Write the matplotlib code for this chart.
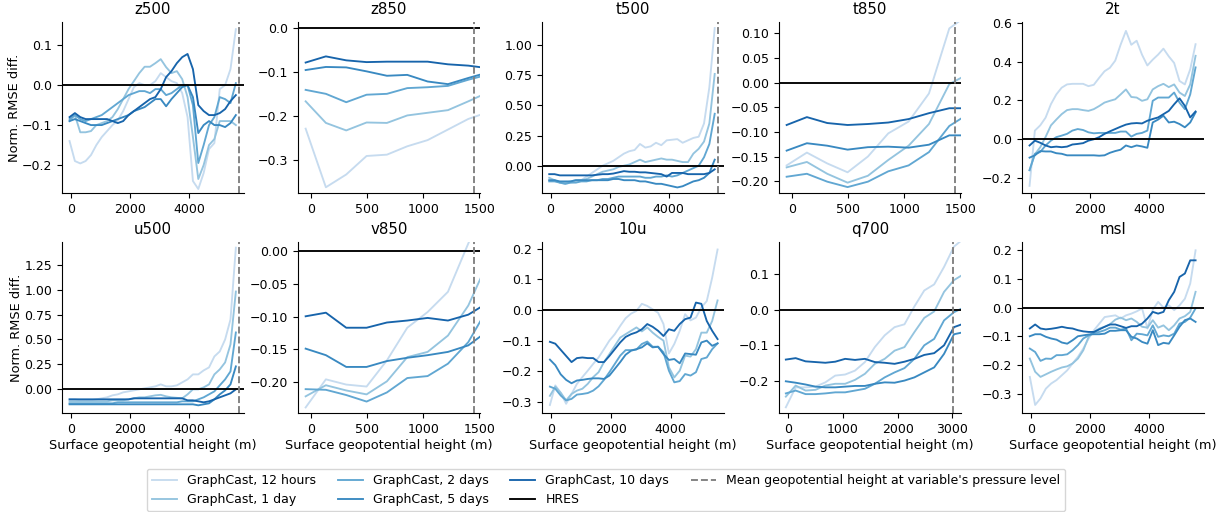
import numpy as np
import matplotlib
matplotlib.use("Agg")
import matplotlib.pyplot as plt
from matplotlib.lines import Line2D

# ---------------- data ----------------
X_HI = [-45, 135, 316, 497, 678, 859, 1040, 1221, 1402, 1583, 1764, 1945, 2126, 2307, 2488, 2669,
        2850, 3031, 3212, 3393, 3574, 3755, 3936, 4117, 4298, 4479, 4660, 4841, 5022, 5203, 5384, 5565]
X_LO = [-45, 135, 316, 497, 678, 859, 1040, 1221, 1402, 1583]
X_Q = [-45, 135, 316, 497, 678, 859, 1040, 1221, 1402, 1583, 1764, 1945, 2126, 2307, 2488, 2669,
       2850, 3031, 3212]

series_names = ["GraphCast, 12 hours", "GraphCast, 1 day", "GraphCast, 2 days",
                "GraphCast, 5 days", "GraphCast, 10 days"]

z500_12h = [-0.14, -0.19, -0.196, -0.19, -0.175, -0.15, -0.13, -0.115, -0.10, -0.088, -0.065, -0.035, -0.005, 0.005, 0.0, 0.0,
            0.01, 0.03, 0.02, 0.01, 0.005, -0.02, -0.08, -0.24, -0.26, -0.22, -0.16, -0.145, -0.01, 0.0, 0.04, 0.14]
z500_1d = [-0.09, -0.075, -0.118, -0.118, -0.115, -0.1, -0.095, -0.09, -0.08, -0.06, -0.035, -0.01, 0.01, 0.03, 0.046, 0.046,
           0.055, 0.065, 0.045, 0.03, 0.035, 0.015, -0.03, -0.13, -0.235, -0.2, -0.15, -0.135, -0.09, -0.09, -0.09, -0.1]
z500_2d = [-0.085, -0.075, -0.085, -0.09, -0.085, -0.08, -0.075, -0.065, -0.055, -0.045, -0.035, -0.025, -0.02, -0.015, -0.015, -0.02,
           -0.01, -0.01, -0.025, -0.02, -0.01, 0.0, 0.0, -0.05, -0.195, -0.15, -0.1, -0.08, -0.03, -0.035, -0.045, 0.005]
z500_5d = [-0.09, -0.085, -0.09, -0.095, -0.1, -0.1, -0.1, -0.095, -0.09, -0.085, -0.08, -0.075, -0.065, -0.06, -0.055, -0.045,
           -0.035, -0.035, -0.053, -0.035, -0.02, -0.005, 0.0, -0.03, -0.12, -0.1, -0.09, -0.1, -0.1, -0.105, -0.095, -0.075]
z500_10d = [-0.08, -0.07, -0.08, -0.085, -0.085, -0.085, -0.085, -0.085, -0.09, -0.095, -0.09, -0.075, -0.065, -0.055, -0.045, -0.035,
            -0.03, -0.01, 0.02, 0.035, 0.055, 0.07, 0.078, 0.04, -0.05, -0.065, -0.075, -0.075, -0.07, -0.06, -0.04, -0.025]

z850_12h = [-0.228, -0.361, -0.332, -0.29, -0.287, -0.268, -0.254, -0.23, -0.206, -0.19]
z850_1d = [-0.166, -0.215, -0.232, -0.214, -0.215, -0.198, -0.192, -0.186, -0.166, -0.145]
z850_2d = [-0.14, -0.149, -0.168, -0.151, -0.149, -0.136, -0.134, -0.131, -0.117, -0.105]
z850_5d = [-0.095, -0.088, -0.089, -0.098, -0.108, -0.106, -0.121, -0.127, -0.113, -0.10]
z850_10d = [-0.078, -0.064, -0.073, -0.077, -0.076, -0.076, -0.076, -0.082, -0.085, -0.091]

t500_12h = [-0.12, -0.12, -0.14, -0.15, -0.14, -0.13, -0.12, -0.09, -0.06, -0.03, 0.0, 0.02, 0.04, 0.07, 0.1, 0.12,
            0.13, 0.18, 0.15, 0.16, 0.19, 0.17, 0.21, 0.215, 0.22, 0.19, 0.21, 0.23, 0.24, 0.35, 0.65, 1.14]
t500_1d = [-0.1, -0.12, -0.14, -0.14, -0.13, -0.12, -0.12, -0.11, -0.09, -0.07, -0.05, -0.04, -0.03, -0.01, 0.0, 0.01,
           0.03, 0.05, 0.03, 0.04, 0.05, 0.06, 0.05, 0.05, 0.04, 0.03, 0.03, 0.1, 0.14, 0.2, 0.35, 0.76]
t500_2d = [-0.13, -0.13, -0.14, -0.15, -0.14, -0.14, -0.13, -0.13, -0.12, -0.12, -0.11, -0.11, -0.1, -0.09, -0.09, -0.09,
           -0.09, -0.09, -0.1, -0.1, -0.09, -0.09, -0.08, -0.09, -0.08, -0.06, -0.04, -0.02, 0.0, 0.07, 0.18, 0.43]
t500_5d = [-0.12, -0.12, -0.13, -0.13, -0.13, -0.12, -0.12, -0.12, -0.12, -0.12, -0.12, -0.12, -0.11, -0.11, -0.12, -0.12,
           -0.12, -0.13, -0.13, -0.14, -0.15, -0.15, -0.16, -0.17, -0.18, -0.17, -0.15, -0.13, -0.12, -0.1, -0.06, 0.05]
t500_10d = [-0.07, -0.07, -0.08, -0.08, -0.08, -0.08, -0.08, -0.08, -0.08, -0.075, -0.07, -0.07, -0.065, -0.055, -0.045, -0.05,
            -0.05, -0.055, -0.055, -0.06, -0.065, -0.07, -0.09, -0.06, -0.06, -0.06, -0.07, -0.07, -0.07, -0.07, -0.06, -0.03]

t850_12h = [-0.168, -0.142, -0.164, -0.182, -0.15, -0.103, -0.079, -0.022, 0.11, 0.14]
t850_1d = [-0.172, -0.161, -0.185, -0.203, -0.189, -0.157, -0.128, -0.084, -0.003, 0.019]
t850_2d = [-0.191, -0.185, -0.201, -0.212, -0.201, -0.180, -0.168, -0.141, -0.088, -0.062]
t850_5d = [-0.138, -0.123, -0.128, -0.136, -0.131, -0.130, -0.132, -0.126, -0.107, -0.107]
t850_10d = [-0.086, -0.070, -0.082, -0.086, -0.084, -0.081, -0.074, -0.062, -0.052, -0.052]

t2m_12h = [-0.243, 0.043, 0.07, 0.11, 0.18, 0.23, 0.265, 0.282, 0.285, 0.285, 0.285, 0.273, 0.28, 0.316, 0.35, 0.368,
           0.405, 0.487, 0.559, 0.487, 0.508, 0.436, 0.38, 0.41, 0.436, 0.467, 0.427, 0.393, 0.3, 0.282, 0.36, 0.49]
t2m_1d = [-0.162, -0.08, -0.043, 0.01, 0.07, 0.1, 0.128, 0.149, 0.154, 0.154, 0.149, 0.145, 0.154, 0.17, 0.188, 0.197,
          0.205, 0.23, 0.256, 0.217, 0.214, 0.197, 0.205, 0.256, 0.273, 0.285, 0.268, 0.282, 0.24, 0.222, 0.282, 0.43]
t2m_2d = [-0.162, -0.077, -0.068, -0.034, -0.009, 0.009, 0.017, 0.026, 0.043, 0.051, 0.046, 0.034, 0.029, 0.031, 0.031, 0.031,
          0.031, 0.038, 0.038, 0.012, 0.026, 0.031, 0.043, 0.197, 0.214, 0.214, 0.214, 0.24, 0.188, 0.154, 0.23, 0.37]
t2m_5d = [-0.097, -0.085, -0.063, -0.065, -0.065, -0.074, -0.077, -0.085, -0.085, -0.085, -0.085, -0.085, -0.085, -0.087, -0.085, -0.072,
          -0.063, -0.056, -0.034, -0.043, -0.034, -0.039, -0.046, 0.085, 0.1, 0.12, 0.085, 0.089, 0.077, 0.06, 0.085, 0.137]
t2m_10d = [-0.034, -0.009, -0.02, -0.034, -0.043, -0.04, -0.043, -0.04, -0.029, -0.026, -0.022, -0.009, -0.002, 0.009, 0.026, 0.039,
           0.051, 0.063, 0.074, 0.08, 0.082, 0.08, 0.094, 0.103, 0.111, 0.128, 0.145, 0.179, 0.21, 0.171, 0.111, 0.142]

u500_12h = [-0.1, -0.1, -0.11, -0.11, -0.11, -0.1, -0.09, -0.08, -0.06, -0.05, -0.03, -0.02, -0.01, 0.0, 0.01, 0.02,
            0.03, 0.05, 0.03, 0.03, 0.04, 0.07, 0.1, 0.15, 0.15, 0.19, 0.22, 0.33, 0.38, 0.5, 0.7, 1.42]
u500_1d = [-0.12, -0.12, -0.12, -0.12, -0.12, -0.12, -0.12, -0.12, -0.11, -0.11, -0.11, -0.1, -0.09, -0.08, -0.08, -0.07,
           -0.06, -0.055, -0.07, -0.08, -0.085, -0.09, -0.05, 0.0, 0.0, 0.02, 0.05, 0.15, 0.2, 0.27, 0.45, 0.98]
u500_2d = [-0.14, -0.14, -0.14, -0.14, -0.14, -0.14, -0.14, -0.14, -0.14, -0.13, -0.13, -0.13, -0.13, -0.13, -0.13, -0.13,
           -0.13, -0.13, -0.13, -0.13, -0.13, -0.12, -0.12, -0.12, -0.1, -0.08, -0.05, -0.02, 0.04, 0.1, 0.18, 0.57]
u500_5d = [-0.15, -0.15, -0.15, -0.15, -0.15, -0.15, -0.15, -0.15, -0.15, -0.15, -0.15, -0.15, -0.15, -0.15, -0.15, -0.15,
           -0.15, -0.15, -0.15, -0.15, -0.15, -0.15, -0.15, -0.15, -0.16, -0.15, -0.14, -0.1, -0.05, -0.01, 0.05, 0.23]
u500_10d = [-0.1, -0.1, -0.1, -0.1, -0.1, -0.1, -0.1, -0.1, -0.1, -0.1, -0.1, -0.1, -0.09, -0.09, -0.09, -0.09,
            -0.09, -0.09, -0.09, -0.09, -0.09, -0.09, -0.11, -0.11, -0.12, -0.13, -0.12, -0.1, -0.08, -0.06, -0.04, 0.0]

v850_12h = [-0.239, -0.196, -0.204, -0.207, -0.167, -0.117, -0.093, -0.062, 0.012, 0.08]
v850_1d = [-0.222, -0.205, -0.213, -0.219, -0.199, -0.162, -0.154, -0.129, -0.083, -0.014]
v850_2d = [-0.211, -0.212, -0.22, -0.23, -0.216, -0.194, -0.191, -0.172, -0.139, -0.085]
v850_5d = [-0.149, -0.159, -0.177, -0.177, -0.168, -0.163, -0.159, -0.154, -0.144, -0.121]
v850_10d = [-0.0995, -0.094, -0.117, -0.117, -0.109, -0.106, -0.102, -0.106, -0.097, -0.078]

u10_12h = [-0.31, -0.246, -0.27, -0.306, -0.274, -0.241, -0.219, -0.198, -0.176, -0.155, -0.128, -0.1, -0.079, -0.052, -0.027, -0.012,
           -0.003, 0.02, 0.013, 0.002, -0.009, -0.046, -0.142, -0.111, -0.068, -0.014, -0.034, -0.025, 0.008, 0.029, 0.105, 0.197]
u10_1d = [-0.28, -0.25, -0.27, -0.295, -0.274, -0.263, -0.257, -0.241, -0.219, -0.203, -0.17, -0.144, -0.117, -0.09, -0.079, -0.068,
          -0.057, -0.07, -0.057, -0.074, -0.088, -0.1, -0.187, -0.22, -0.198, -0.149, -0.152, -0.128, -0.074, -0.074, -0.036, 0.031]
u10_2d = [-0.25, -0.257, -0.279, -0.295, -0.29, -0.276, -0.274, -0.271, -0.263, -0.249, -0.228, -0.203, -0.176, -0.149, -0.131, -0.131,
          -0.129, -0.111, -0.103, -0.12, -0.12, -0.138, -0.198, -0.236, -0.232, -0.209, -0.214, -0.203, -0.16, -0.155, -0.128, -0.109]
u10_5d = [-0.162, -0.18, -0.21, -0.228, -0.239, -0.23, -0.228, -0.225, -0.223, -0.223, -0.225, -0.214, -0.192, -0.17, -0.146, -0.133,
          -0.128, -0.122, -0.109, -0.122, -0.12, -0.144, -0.163, -0.16, -0.174, -0.142, -0.144, -0.146, -0.106, -0.1, -0.117, -0.109]
u10_10d = [-0.104, -0.11, -0.13, -0.15, -0.17, -0.157, -0.155, -0.157, -0.157, -0.17, -0.17, -0.15, -0.128, -0.106, -0.088, -0.079,
           -0.073, -0.063, -0.046, -0.055, -0.068, -0.085, -0.063, -0.068, -0.046, -0.03, -0.025, 0.024, 0.02, -0.036, -0.068, -0.095]

q700_12h = [-0.274, -0.218, -0.218, -0.216, -0.204, -0.185, -0.182, -0.171, -0.147, -0.105, -0.072, -0.049, -0.041, 0.009, 0.054, 0.071,
            0.12, 0.177, 0.2]
q700_1d = [-0.244, -0.213, -0.227, -0.225, -0.213, -0.208, -0.208, -0.197, -0.18, -0.152, -0.138, -0.115, -0.105, -0.063, -0.023, -0.005,
           0.05, 0.083, 0.1]
q700_2d = [-0.235, -0.227, -0.237, -0.237, -0.235, -0.232, -0.232, -0.227, -0.222, -0.208, -0.19, -0.176, -0.164, -0.138, -0.1, -0.082,
           -0.03, -0.007, 0.006]
q700_5d = [-0.201, -0.205, -0.21, -0.216, -0.218, -0.218, -0.216, -0.214, -0.214, -0.208, -0.204, -0.205, -0.199, -0.19, -0.176, -0.162,
           -0.124, -0.069, -0.063]
q700_10d = [-0.14, -0.136, -0.145, -0.147, -0.149, -0.146, -0.138, -0.141, -0.138, -0.147, -0.149, -0.152, -0.146, -0.138, -0.127, -0.122,
            -0.1, -0.049, -0.039]

msl_12h = [-0.242, -0.34, -0.317, -0.283, -0.265, -0.253, -0.236, -0.219, -0.195, -0.172, -0.143, -0.108, -0.079, -0.056, -0.033, -0.03,
           -0.027, -0.038, -0.027, -0.021, -0.013, -0.003, -0.073, -0.007, 0.02, 0.0, 0.008, -0.009, 0.008, 0.031, 0.084, 0.2]
msl_1d = [-0.178, -0.224, -0.242, -0.233, -0.224, -0.216, -0.209, -0.205, -0.195, -0.178, -0.149, -0.102, -0.085, -0.073, -0.067, -0.058,
          -0.042, -0.035, -0.044, -0.038, -0.05, -0.067, -0.07, -0.044, -0.07, -0.062, -0.079, -0.062, -0.038, -0.03, -0.015, 0.055]
msl_2d = [-0.143, -0.155, -0.186, -0.178, -0.179, -0.166, -0.166, -0.163, -0.149, -0.131, -0.108, -0.097, -0.088, -0.085, -0.079, -0.07,
          -0.07, -0.077, -0.073, -0.114, -0.091, -0.093, -0.097, -0.062, -0.102, -0.097, -0.1, -0.091, -0.056, -0.05, -0.035, -0.003]
msl_5d = [-0.1, -0.093, -0.093, -0.102, -0.108, -0.112, -0.122, -0.126, -0.114, -0.1, -0.097, -0.094, -0.093, -0.093, -0.091, -0.081,
          -0.081, -0.079, -0.079, -0.102, -0.108, -0.12, -0.126, -0.079, -0.131, -0.123, -0.126, -0.097, -0.067, -0.044, -0.038, -0.05]
msl_10d = [-0.073, -0.059, -0.073, -0.076, -0.074, -0.071, -0.067, -0.071, -0.073, -0.079, -0.083, -0.085, -0.085, -0.076, -0.067, -0.059,
           -0.059, -0.065, -0.071, -0.065, -0.065, -0.056, -0.038, -0.015, -0.021, -0.015, 0.026, 0.055, 0.107, 0.119, 0.165, 0.165]

panel_titles = ["z500", "z850", "t500", "t850", "2t", "u500", "v850", "10u", "q700", "msl"]
panel_x = [X_HI, X_LO, X_HI, X_LO, X_HI, X_HI, X_LO, X_HI, X_Q, X_HI]
panel_data = [
    [z500_12h, z500_1d, z500_2d, z500_5d, z500_10d],
    [z850_12h, z850_1d, z850_2d, z850_5d, z850_10d],
    [t500_12h, t500_1d, t500_2d, t500_5d, t500_10d],
    [t850_12h, t850_1d, t850_2d, t850_5d, t850_10d],
    [t2m_12h, t2m_1d, t2m_2d, t2m_5d, t2m_10d],
    [u500_12h, u500_1d, u500_2d, u500_5d, u500_10d],
    [v850_12h, v850_1d, v850_2d, v850_5d, v850_10d],
    [u10_12h, u10_1d, u10_2d, u10_5d, u10_10d],
    [q700_12h, q700_1d, q700_2d, q700_5d, q700_10d],
    [msl_12h, msl_1d, msl_2d, msl_5d, msl_10d],
]
# mean geopotential height at pressure level (None for surface variables)
mean_height = [5685, 1453, 5690, 1450, None, 5674, 1453, None, 3015, None]

xlims = [(-300, 5840), (-113, 1506), (-290, 5880), (-113, 1506), (-300, 5850),
         (-300, 5840), (-113, 1506), (-310, 5780), (-170, 3160), (-310, 5850)]
ylims = [(-0.27, 0.158), (-0.374, 0.014), (-0.226, 1.19), (-0.224, 0.123), (-0.28, 0.605),
         (-0.237, 1.477), (-0.2475, 0.0142), (-0.336, 0.2215), (-0.29, 0.19), (-0.368, 0.229)]
ysteps = [0.1, 0.1, 0.25, 0.05, 0.2, 0.25, 0.05, 0.1, 0.1, 0.1]

# ---------------- figure ----------------
colors = [plt.cm.Blues(v) for v in (0.25, 0.4, 0.53, 0.66, 0.8)]
LW = 1.35

fig = plt.figure(figsize=(12.18, 5.12), dpi=100)
W, H = 1218.0, 512.0
col_left = [62, 298, 542, 779, 1022]
ax_w = 182
row_top = [22, 242]
ax_h = 171

for i, title in enumerate(panel_titles):
    r, c = divmod(i, 5)
    ax = fig.add_axes([col_left[c] / W, 1 - (row_top[r] + ax_h) / H, ax_w / W, ax_h / H])
    for s in range(5):
        ax.plot(panel_x[i], panel_data[i][s], color=colors[s], lw=LW)
    ax.axhline(0, color="black", lw=LW)
    if mean_height[i] is not None:
        ax.axvline(mean_height[i], color="grey", ls="--", lw=LW)
    ax.set_xlim(*xlims[i])
    ax.set_ylim(*ylims[i])
    ax.yaxis.set_major_locator(matplotlib.ticker.MultipleLocator(ysteps[i]))
    ax.spines["top"].set_visible(False)
    ax.spines["right"].set_visible(False)
    ax.set_title(title, fontsize=10.8)
    ax.tick_params(labelsize=9)
    if c == 0:
        ax.set_ylabel("Norm. RMSE diff.", fontsize=9.3, labelpad=1)
    if r == 1:
        ax.set_xlabel("Surface geopotential height (m)", fontsize=9.3, labelpad=2)

handles = [Line2D([], [], color=colors[s], lw=LW) for s in range(5)]
handles.append(Line2D([], [], color="black", lw=LW))
handles.append(Line2D([], [], color="grey", ls="--", lw=LW))
labels = series_names + ["HRES", "Mean geopotential height at variable's pressure level"]
fig.legend(handles, labels, ncol=4, loc="center", bbox_to_anchor=(606 / W, 1 - 490 / H),
           fontsize=9, frameon=True, handlelength=2.0, columnspacing=1.75)

fig.savefig("out.png", dpi=100)
